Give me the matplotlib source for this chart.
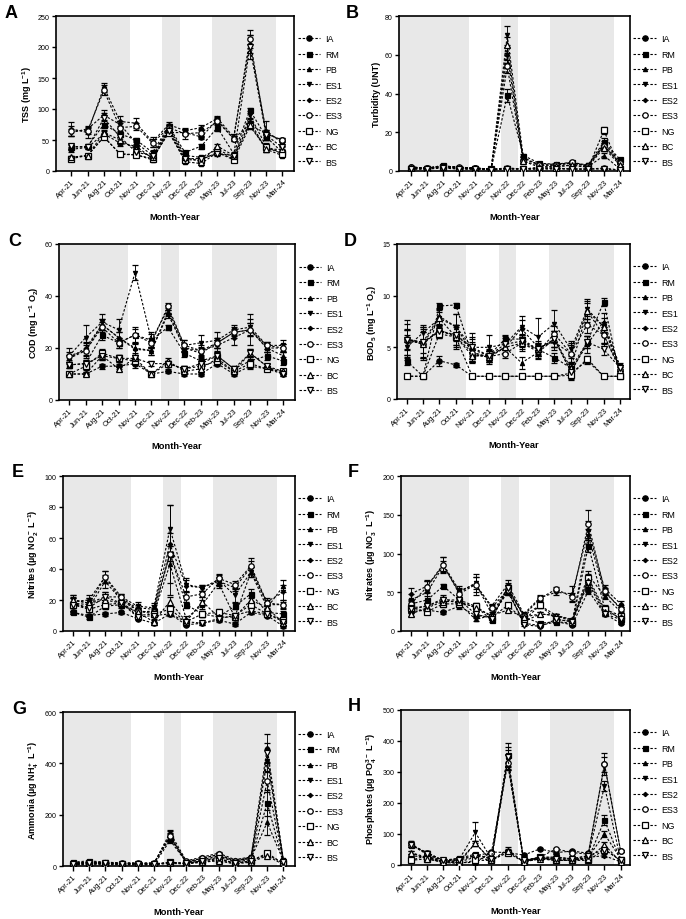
import matplotlib
matplotlib.use("Agg")
import matplotlib.pyplot as plt
from matplotlib.lines import Line2D

plt.rcParams['font.family'] = ['Liberation Sans', 'DejaVu Sans']
plt.rcParams['mathtext.fontset'] = 'custom'
plt.rcParams['mathtext.rm'] = 'Liberation Sans:bold'
plt.rcParams['mathtext.it'] = 'Liberation Sans:bold'
plt.rcParams['mathtext.bf'] = 'Liberation Sans:bold'

months = ["Apr-21", "Jun-21", "Aug-21", "Oct-21", "Nov-21", "Dec-21", "Nov-22",
          "Dec-22", "Feb-23", "May-23", "Jul-23", "Sep-23", "Nov-23", "Mar-24"]
sites = ["IA", "RM", "PB", "ES1", "ES2", "ES3", "NG", "BC", "BS"]

# shaded periods (in category units)
shades = [(-1.2, 3.6), (5.6, 6.67), (8.65, 12.6)]

# ---------------- A: TSS ----------------
tss = {
    "IA":  [35, 38, 60, 45, 40, 20, 62, 62, 55, 82, 52, 75, 60, 50],
    "RM":  [38, 40, 75, 60, 50, 30, 72, 30, 40, 70, 28, 98, 55, 30],
    "PB":  [22, 25, 55, 28, 26, 18, 65, 15, 12, 30, 20, 80, 35, 25],
    "ES1": [62, 68, 90, 75, 45, 25, 70, 25, 22, 35, 22, 90, 40, 28],
    "ES2": [68, 62, 135, 80, 77, 47, 75, 65, 70, 85, 55, 205, 65, 45],
    "ES3": [65, 65, 130, 70, 72, 45, 70, 60, 62, 80, 52, 213, 60, 50],
    "NG":  [20, 25, 55, 27, 26, 20, 62, 18, 18, 30, 18, 72, 38, 28],
    "BC":  [22, 25, 62, 50, 35, 22, 68, 22, 15, 40, 25, 75, 35, 35],
    "BS":  [40, 38, 85, 55, 30, 25, 65, 20, 20, 28, 25, 200, 58, 38],
}
tss_sd = {
    "IA":  [4, 3, 5, 4, 3, 3, 4, 4, 4, 5, 4, 6, 5, 3],
    "RM":  [4, 3, 6, 5, 4, 3, 4, 3, 4, 6, 3, 4, 5, 3],
    "PB":  [3, 2, 4, 3, 2, 2, 4, 2, 2, 3, 2, 5, 4, 3],
    "ES1": [6, 5, 8, 6, 4, 3, 4, 3, 3, 4, 3, 6, 5, 3],
    "ES2": [11, 8, 7, 8, 8, 8, 4, 4, 4, 4, 4, 15, 15, 4],
    "ES3": [8, 6, 8, 8, 6, 6, 4, 8, 6, 5, 4, 15, 6, 4],
    "NG":  [3, 2, 4, 3, 2, 2, 4, 2, 2, 3, 2, 4, 4, 3],
    "BC":  [3, 2, 4, 5, 3, 2, 4, 2, 2, 4, 2, 4, 4, 3],
    "BS":  [4, 3, 8, 6, 3, 3, 4, 3, 3, 3, 3, 20, 8, 3],
}

# ---------------- B: Turbidity ----------------
turb = {
    "IA":  [2, 1.5, 2.5, 1.8, 1.5, 0.8, 1.5, 1, 1.5, 1.5, 1, 1, 1.5, 0.5],
    "RM":  [1.5, 1.2, 3, 1.5, 1.2, 1, 39, 8, 4, 3.5, 4.5, 3, 15, 6],
    "PB":  [2, 1.5, 2, 1.5, 1.5, 1, 1.5, 1, 2, 2, 3, 2, 8, 1],
    "ES1": [1.5, 1.5, 2.5, 1.8, 1.5, 1, 70, 7, 3, 3, 4, 3, 13, 4],
    "ES2": [2, 1.5, 2.5, 2, 1.5, 1, 60, 6, 3.5, 3.5, 4, 2.5, 14, 5],
    "ES3": [2, 1.5, 2.5, 2, 1.5, 1, 54, 5, 3, 3, 4.5, 2.5, 13, 4],
    "NG":  [1, 1, 2, 1, 1, 0.8, 1, 1, 1, 1.5, 1, 1, 21, 1],
    "BC":  [1.5, 1.2, 2, 1.5, 1, 0.8, 65, 5, 2, 2.5, 3, 2, 12, 3],
    "BS":  [1, 1, 1.5, 1, 1, 0.5, 1, 1, 1, 1, 1, 1, 1, 0.5],
}
turb_sd = {
    "IA":  [0.3, 0.3, 0.4, 0.3, 0.3, 0.2, 0.3, 0.2, 0.3, 0.3, 0.2, 0.2, 0.3, 0.2],
    "RM":  [0.3, 0.2, 0.4, 0.3, 0.2, 0.2, 3.5, 1.0, 0.5, 0.5, 0.6, 0.4, 2.0, 0.8],
    "PB":  [0.3, 0.3, 0.3, 0.3, 0.3, 0.2, 0.3, 0.2, 0.3, 0.3, 0.4, 0.3, 1.5, 0.2],
    "ES1": [0.3, 0.3, 0.4, 0.3, 0.3, 0.2, 5.0, 1.0, 0.4, 0.4, 0.5, 0.4, 1.5, 0.6],
    "ES2": [0.3, 0.3, 0.4, 0.3, 0.3, 0.2, 4.0, 1.0, 0.5, 0.5, 0.5, 0.4, 1.5, 0.6],
    "ES3": [0.3, 0.3, 0.4, 0.3, 0.3, 0.2, 3.5, 0.8, 0.4, 0.4, 0.6, 0.4, 1.5, 0.5],
    "NG":  [0.2, 0.2, 0.3, 0.2, 0.2, 0.2, 0.2, 0.2, 0.2, 0.3, 0.2, 0.2, 1.8, 0.2],
    "BC":  [0.3, 0.2, 0.3, 0.3, 0.2, 0.2, 4.0, 0.8, 0.3, 0.4, 0.4, 0.3, 1.5, 0.4],
    "BS":  [0.2, 0.2, 0.3, 0.2, 0.2, 0.1, 0.2, 0.2, 0.2, 0.2, 0.2, 0.2, 0.2, 0.1],
}

# ---------------- C: COD ----------------
cod = {
    "IA":  [10, 10, 13, 13, 14, 10, 11, 10, 10, 14, 10, 13, 12, 10],
    "RM":  [13.5, 14, 25, 22, 25, 23, 28, 18, 15, 17, 12, 15, 17, 15],
    "PB":  [16, 19, 29, 24, 20, 19, 34, 20, 18, 22, 26, 27, 20, 17],
    "ES1": [17, 24, 30, 27, 49, 23, 35, 21, 22, 23, 27, 28, 21, 21],
    "ES2": [16, 20, 29, 24, 19.5, 19, 33, 20, 19, 21, 24, 27, 20, 20],
    "ES3": [17, 19, 28, 22, 25, 22, 36, 21, 19, 22, 26, 27, 21, 20],
    "NG":  [10, 13, 18, 16, 15, 10, 14, 12, 13, 15, 11, 14, 12, 11],
    "BC":  [10, 10, 17, 12, 16, 10, 15, 11, 12, 16, 11, 18, 13, 11],
    "BS":  [13.5, 14, 17, 16, 16, 14, 14, 12, 14, 17, 12, 18, 13, 10],
}
cod_sd = {
    "IA":  [0.8, 0.8, 1.0, 1.0, 1.5, 0.6, 0.8, 0.6, 0.6, 1.0, 0.8, 1.0, 1.0, 0.6],
    "RM":  [1.0, 1.5, 2.0, 2.0, 3.0, 2.5, 1.0, 1.5, 1.5, 1.5, 1.0, 1.5, 1.5, 1.5],
    "PB":  [1.5, 3.0, 2.0, 2.0, 2.0, 1.5, 1.5, 1.5, 2.0, 2.0, 1.5, 2.5, 1.5, 1.5],
    "ES1": [3.0, 5.0, 3.0, 4.0, 3.0, 3.0, 1.5, 2.0, 3.0, 3.0, 2.0, 3.0, 1.5, 2.0],
    "ES2": [1.5, 2.5, 2.0, 2.0, 2.0, 1.5, 1.5, 1.5, 2.0, 2.0, 3.0, 2.5, 1.5, 1.5],
    "ES3": [1.5, 2.0, 2.0, 2.0, 2.5, 2.0, 1.5, 2.0, 1.5, 2.0, 2.0, 6.0, 1.5, 1.5],
    "NG":  [0.8, 1.5, 1.5, 1.5, 1.5, 0.6, 1.0, 1.0, 1.0, 1.5, 0.8, 1.5, 1.0, 0.8],
    "BC":  [0.8, 0.8, 1.5, 1.0, 1.5, 0.6, 1.0, 0.8, 1.0, 1.5, 0.8, 1.5, 1.0, 0.8],
    "BS":  [1.0, 1.5, 1.5, 1.5, 1.5, 1.0, 1.0, 1.0, 1.0, 1.5, 1.0, 1.5, 1.0, 0.8],
}

# ---------------- D: BOD5 ----------------
bod = {
    "IA":  [2.2, 2.2, 3.7, 3.3, 2.2, 2.2, 2.2, 2.2, 2.2, 2.2, 2.5, 3.7, 2.2, 2.2],
    "RM":  [3.7, 2.2, 9.0, 9.1, 4.2, 4.2, 5.8, 5.8, 4.8, 4.0, 3.0, 5.5, 9.4, 2.2],
    "PB":  [5.8, 5.5, 8.0, 7.0, 4.5, 4.0, 5.0, 3.5, 4.5, 5.8, 2.7, 5.3, 7.5, 3.0],
    "ES1": [5.0, 6.4, 7.8, 7.0, 5.0, 5.0, 5.3, 7.0, 6.0, 7.3, 4.8, 8.7, 7.0, 3.2],
    "ES2": [5.5, 5.5, 6.5, 6.2, 4.8, 4.2, 5.0, 6.8, 5.0, 5.5, 4.4, 8.5, 6.2, 3.0],
    "ES3": [5.8, 5.3, 6.7, 6.0, 4.5, 4.1, 4.4, 5.4, 4.6, 6.3, 4.4, 7.2, 6.2, 2.8],
    "NG":  [2.2, 2.2, 6.3, 6.0, 2.2, 2.2, 2.2, 2.2, 2.2, 2.2, 2.3, 3.9, 2.2, 2.2],
    "BC":  [5.8, 5.3, 7.8, 6.0, 4.2, 4.1, 5.0, 5.4, 4.8, 5.8, 3.0, 8.5, 7.0, 2.8],
    "BS":  [5.7, 5.5, 6.6, 6.2, 5.0, 4.2, 5.3, 5.6, 4.8, 5.8, 2.6, 5.5, 4.8, 3.0],
}
bod_sd = {
    "IA":  [0.1, 0.1, 0.5, 0.2, 0.1, 0.1, 0.1, 0.1, 0.1, 0.1, 0.3, 0.3, 0.1, 0.1],
    "RM":  [0.4, 0.1, 0.3, 0.2, 0.5, 0.4, 0.4, 0.5, 0.5, 0.5, 0.6, 0.6, 0.4, 0.1],
    "PB":  [1.8, 1.5, 0.8, 1.2, 1.0, 0.6, 0.6, 0.6, 0.6, 0.8, 0.8, 0.8, 0.8, 0.3],
    "ES1": [1.2, 0.8, 0.8, 1.2, 1.4, 1.2, 0.8, 1.0, 1.8, 1.3, 0.8, 1.0, 0.5, 0.3],
    "ES2": [1.2, 1.5, 0.6, 1.0, 1.2, 0.6, 0.6, 0.8, 0.6, 0.8, 1.0, 1.0, 0.8, 0.3],
    "ES3": [1.0, 1.2, 0.6, 1.0, 0.8, 0.5, 0.4, 0.8, 0.6, 0.8, 0.8, 0.8, 0.8, 0.3],
    "NG":  [0.1, 0.1, 0.4, 0.4, 0.1, 0.1, 0.1, 0.1, 0.1, 0.1, 0.2, 0.3, 0.1, 0.1],
    "BC":  [1.5, 1.5, 0.6, 1.2, 0.6, 0.5, 0.5, 0.6, 0.6, 0.8, 1.2, 0.8, 0.8, 0.3],
    "BS":  [1.0, 1.0, 0.6, 1.0, 0.8, 0.5, 0.6, 0.6, 0.6, 0.8, 0.6, 0.6, 0.5, 0.3],
}

# ---------------- E: Nitrites ----------------
nitri = {
    "IA":  [12, 10, 11, 12, 8, 5, 11, 4, 5, 7, 4.5, 12, 10, 3],
    "RM":  [12, 9, 16, 17, 12, 13, 50, 17, 11, 9, 16, 24, 12, 11],
    "PB":  [18, 15, 32, 20, 13, 11, 43, 8, 17, 31, 9, 38, 15, 29],
    "ES1": [20, 18, 22, 22, 16, 15, 66, 30, 28, 33, 23, 38, 19, 25],
    "ES2": [19, 20, 35, 20, 15, 14, 56, 29, 28, 32, 28, 41, 17, 17],
    "ES3": [18, 17, 35, 22, 13, 12, 50, 22, 24, 34, 30, 42, 18, 17],
    "NG":  [17, 14, 17, 18, 10, 11, 14, 6, 11, 12, 10, 17, 11, 7],
    "BC":  [20, 18, 20, 18, 12, 6, 19, 6, 19, 9, 9, 20, 15, 5],
    "BS":  [17, 15, 22, 18, 9, 10, 11, 6, 5, 8, 10, 13, 11, 6],
}
nitri_sd = {
    "IA":  [1, 1, 1, 1, 1, 1, 1, 1, 1, 1, 1, 1, 1, 1],
    "RM":  [1, 1, 2, 2, 2, 2, 5, 2, 2, 1, 2, 3, 2, 2],
    "PB":  [3, 3, 4, 3, 2, 2, 20, 2, 3, 3, 2, 3, 2, 4],
    "ES1": [3, 3, 3, 2, 3, 3, 15, 4, 2, 3, 4, 3, 2, 5],
    "ES2": [3, 3, 4, 2, 2, 3, 25, 4, 2, 3, 2, 4, 2, 3],
    "ES3": [3, 3, 4, 2, 2, 2, 5, 3, 2, 3, 2, 5, 2, 2],
    "NG":  [2, 2, 2, 2, 1, 2, 2, 1, 2, 2, 1, 2, 1, 1],
    "BC":  [3, 3, 2, 2, 2, 1, 3, 1, 3, 1, 1, 3, 2, 1],
    "BS":  [2, 2, 3, 2, 1, 2, 1, 1, 1, 1, 1, 2, 1, 1],
}

# ---------------- F: Nitrates ----------------
nitra = {
    "IA":  [25, 27, 24, 32, 20, 18, 52, 10, 7, 12, 8, 52, 22, 10],
    "RM":  [35, 40, 58, 40, 32, 14, 57, 18, 10, 12, 10, 110, 30, 15],
    "PB":  [30, 32, 42, 35, 15, 20, 50, 12, 22, 20, 15, 72, 45, 25],
    "ES1": [40, 50, 84, 50, 62, 22, 55, 20, 33, 20, 12, 122, 50, 30],
    "ES2": [48, 58, 86, 52, 60, 32, 60, 22, 43, 50, 48, 130, 55, 35],
    "ES3": [35, 57, 85, 48, 60, 30, 53, 20, 42, 54, 44, 138, 52, 28],
    "NG":  [30, 25, 35, 35, 32, 18, 33, 14, 33, 15, 12, 68, 28, 20],
    "BC":  [22, 30, 38, 38, 30, 20, 27, 18, 22, 20, 14, 65, 25, 18],
    "BS":  [28, 32, 40, 40, 22, 16, 55, 8, 6, 15, 12, 62, 22, 15],
}
nitra_sd = {
    "IA":  [2, 2, 2, 3, 2, 2, 4, 1, 1, 1, 1, 4, 2, 1],
    "RM":  [4, 5, 3, 4, 4, 2, 5, 2, 1, 2, 1, 8, 3, 2],
    "PB":  [4, 4, 4, 4, 2, 2, 4, 2, 2, 2, 2, 5, 4, 3],
    "ES1": [8, 15, 6, 6, 8, 3, 5, 2, 3, 2, 2, 10, 4, 4],
    "ES2": [8, 8, 10, 6, 14, 3, 6, 3, 3, 3, 10, 12, 4, 4],
    "ES3": [6, 8, 10, 6, 10, 3, 6, 2, 3, 3, 5, 18, 4, 3],
    "NG":  [4, 3, 4, 4, 4, 2, 3, 2, 3, 2, 2, 5, 3, 2],
    "BC":  [3, 3, 4, 4, 3, 2, 3, 2, 2, 2, 2, 5, 3, 2],
    "BS":  [4, 4, 4, 4, 3, 2, 5, 1, 1, 2, 2, 5, 3, 2],
}

# ---------------- G: Ammonia ----------------
ammo = {
    "IA":  [10, 12, 10, 8, 8, 8, 15, 10, 20, 30, 10, 20, 45, 10],
    "RM":  [15, 20, 15, 12, 12, 12, 110, 15, 25, 40, 15, 25, 245, 15],
    "PB":  [10, 15, 12, 10, 10, 10, 120, 12, 20, 35, 20, 30, 170, 20],
    "ES1": [8, 10, 10, 8, 8, 5, 100, 15, 30, 45, 20, 35, 410, 25],
    "ES2": [12, 15, 14, 12, 10, 10, 130, 20, 35, 50, 25, 35, 460, 25],
    "ES3": [10, 15, 12, 10, 10, 10, 115, 18, 30, 45, 20, 30, 330, 20],
    "NG":  [5, 8, 8, 5, 5, 5, 15, 10, 15, 25, 10, 20, 50, 10],
    "BC":  [5, 5, 5, 5, 5, 5, 10, 8, 15, 20, 8, 15, 40, 5],
    "BS":  [8, 10, 10, 8, 8, 8, 12, 10, 20, 30, 10, 20, 440, 15],
}
ammo_sd = {
    "IA":  [2, 2, 2, 2, 2, 2, 3, 2, 3, 4, 2, 3, 5, 2],
    "RM":  [3, 3, 3, 2, 2, 2, 15, 3, 4, 5, 3, 4, 50, 3],
    "PB":  [2, 3, 2, 2, 2, 2, 15, 2, 3, 4, 3, 4, 50, 3],
    "ES1": [2, 2, 2, 2, 2, 1, 12, 3, 4, 5, 3, 5, 45, 4],
    "ES2": [3, 3, 3, 2, 2, 2, 12, 3, 5, 6, 4, 5, 55, 4],
    "ES3": [2, 3, 2, 2, 2, 2, 12, 3, 4, 5, 3, 4, 40, 3],
    "NG":  [1, 2, 2, 1, 1, 1, 3, 2, 3, 4, 2, 3, 6, 2],
    "BC":  [1, 1, 1, 1, 1, 1, 2, 2, 3, 3, 2, 3, 5, 1],
    "BS":  [2, 2, 2, 2, 2, 2, 2, 2, 3, 4, 2, 3, 40, 3],
}

# ---------------- H: Phosphates ----------------
phos = {
    "IA":  [15, 30, 10, 8, 8, 42, 40, 32, 52, 40, 45, 38, 325, 45],
    "RM":  [65, 40, 15, 22, 35, 20, 355, 15, 25, 25, 20, 20, 145, 15],
    "PB":  [40, 25, 12, 12, 70, 15, 50, 10, 20, 15, 15, 25, 100, 20],
    "ES1": [70, 35, 12, 18, 105, 20, 340, 12, 25, 25, 20, 30, 255, 15],
    "ES2": [30, 25, 10, 10, 25, 15, 330, 12, 20, 20, 15, 25, 30, 10],
    "ES3": [65, 40, 15, 20, 30, 40, 330, 15, 25, 52, 40, 35, 325, 45],
    "NG":  [15, 20, 8, 5, 15, 15, 40, 10, 25, 15, 15, 15, 50, 15],
    "BC":  [40, 20, 10, 8, 70, 15, 45, 10, 20, 15, 15, 20, 65, 10],
    "BS":  [65, 35, 15, 15, 30, 20, 350, 15, 22, 20, 20, 30, 50, 15],
}
phos_sd = {
    "IA":  [3, 4, 2, 2, 2, 4, 5, 3, 4, 4, 4, 4, 35, 4],
    "RM":  [6, 4, 3, 3, 5, 3, 40, 2, 3, 3, 3, 3, 15, 2],
    "PB":  [5, 3, 2, 2, 8, 2, 8, 2, 3, 2, 2, 3, 10, 3],
    "ES1": [6, 4, 2, 3, 33, 3, 30, 2, 3, 3, 3, 4, 15, 2],
    "ES2": [4, 3, 2, 2, 4, 2, 25, 2, 3, 3, 2, 3, 5, 2],
    "ES3": [6, 4, 2, 3, 4, 4, 25, 2, 3, 4, 4, 4, 25, 4],
    "NG":  [3, 3, 2, 1, 3, 2, 5, 2, 3, 2, 2, 2, 6, 2],
    "BC":  [5, 3, 2, 2, 8, 2, 6, 2, 3, 2, 2, 3, 8, 2],
    "BS":  [6, 4, 2, 2, 4, 3, 30, 2, 3, 3, 3, 4, 6, 2],
}

styles = {
    "IA":  dict(marker='o', mfc='k', ms=3.8),
    "RM":  dict(marker='s', mfc='k', ms=3.6),
    "PB":  dict(marker='^', mfc='k', ms=3.0),
    "ES1": dict(marker='v', mfc='k', ms=3.0),
    "ES2": dict(marker='D', mfc='k', ms=2.2),
    "ES3": dict(marker='o', mfc='w', ms=3.9),
    "NG":  dict(marker='s', mfc='w', ms=3.7),
    "BC":  dict(marker='^', mfc='w', ms=4.0),
    "BS":  dict(marker='v', mfc='w', ms=4.0),
}

W, H = 686, 920
fig = plt.figure(figsize=(W / 100, H / 100), dpi=100)

panels = [
    # letter, data, sd, ylim, yticks, ylabel, box(l,t,r,b px), xlim
    ("A", tss, tss_sd, 250, [0, 50, 100, 150, 200, 250], r"TSS (mg L$^{-1}$)",
     (56, 17, 294, 172), (-0.95, 13.72)),
    ("B", turb, turb_sd, 80, [0, 20, 40, 60, 80], "Turbidity (UNT)",
     (399, 17, 630, 172), (-0.72, 13.62)),
    ("C", cod, cod_sd, 60, [0, 20, 40, 60], r"COD (mg L$^{-1}$ O$_2$)",
     (59, 245, 295, 401), (-0.62, 13.72)),
    ("D", bod, bod_sd, 15, [0, 5, 10, 15], r"BOD$_5$ (mg L$^{-1}$ O$_2$)",
     (397, 245, 630, 400), (-0.58, 13.6)),
    ("E", nitri, nitri_sd, 100, [0, 20, 40, 60, 80, 100], r"Nitrites (µg NO$_2^-$ L$^{-1}$)",
     (63, 477, 295, 632), (-0.6, 13.72)),
    ("F", nitra, nitra_sd, 200, [0, 50, 100, 150, 200], r"Nitrates (µg NO$_3^-$ L$^{-1}$)",
     (401, 477, 630, 632), (-0.62, 13.58)),
    ("G", ammo, ammo_sd, 600, [0, 200, 400, 600], r"Ammonia (µg NH$_4^+$ L$^{-1}$)",
     (63, 713, 295, 867), (-0.62, 13.72)),
    ("H", phos, phos_sd, 500, [0, 100, 200, 300, 400, 500], r"Phosphates (µg PO$_4^{3-}$ L$^{-1}$)",
     (401, 711, 630, 866), (-0.6, 13.58)),
]

x = list(range(len(months)))

for letter, data, sd, ymax, yticks, ylabel, box, xlim in panels:
    l, t, r, b = box
    ax = fig.add_axes([l / W, 1 - b / H, (r - l) / W, (b - t) / H])
    for s0, s1 in shades:
        ax.axvspan(max(s0, xlim[0]), s1, color='#e8e8e8', lw=0, zorder=0)
    for s in sites:
        st = styles[s]
        ax.errorbar(x, data[s], yerr=sd[s], color='k', ls=(0, (2.2, 1.6)), lw=0.8,
                    marker=st['marker'], ms=st['ms'], mfc=st['mfc'], mec='k', mew=0.9,
                    elinewidth=0.65, capsize=1.9, capthick=0.65, zorder=3)
    ax.set_xlim(*xlim)
    ax.set_ylim(0, ymax)
    ax.set_yticks(yticks)
    ax.set_xticks(x)
    ax.set_xticklabels(months, rotation=45, ha='right', rotation_mode='anchor', fontsize=5.4)
    ax.tick_params(axis='y', labelsize=5.1, length=3, width=1.0, direction='out', pad=1.5)
    ax.tick_params(axis='x', length=3.5, width=1.0, direction='out', pad=1.5)
    for sp in ax.spines.values():
        sp.set_linewidth(1.2)
    ax.set_ylabel(ylabel, fontsize=6.5, fontweight='bold', labelpad=3)
    ax.set_xlabel("Month-Year", fontsize=6.7, fontweight='bold')
    ax.xaxis.set_label_coords(0.5, -0.265)
    handles = [Line2D([0], [0], color='k', ls=(0, (2.2, 1.6)), lw=0.8,
                      marker=styles[s]['marker'], ms=styles[s]['ms'],
                      mfc=styles[s]['mfc'], mec='k', mew=0.9) for s in sites]
    ax.legend(handles, sites, loc='center left', bbox_to_anchor=(1.015, 0.455),
              frameon=False, fontsize=6.4, handlelength=2.5, handletextpad=0.6,
              labelspacing=0.72, borderaxespad=0, borderpad=0)
    fig.text((l - 51) / W if l < 300 else (l - 53) / W, 1 - (t - 4) / H, letter,
             fontsize=13, fontweight='bold', ha='left', va='center')

fig.savefig("out.png", dpi=100)
